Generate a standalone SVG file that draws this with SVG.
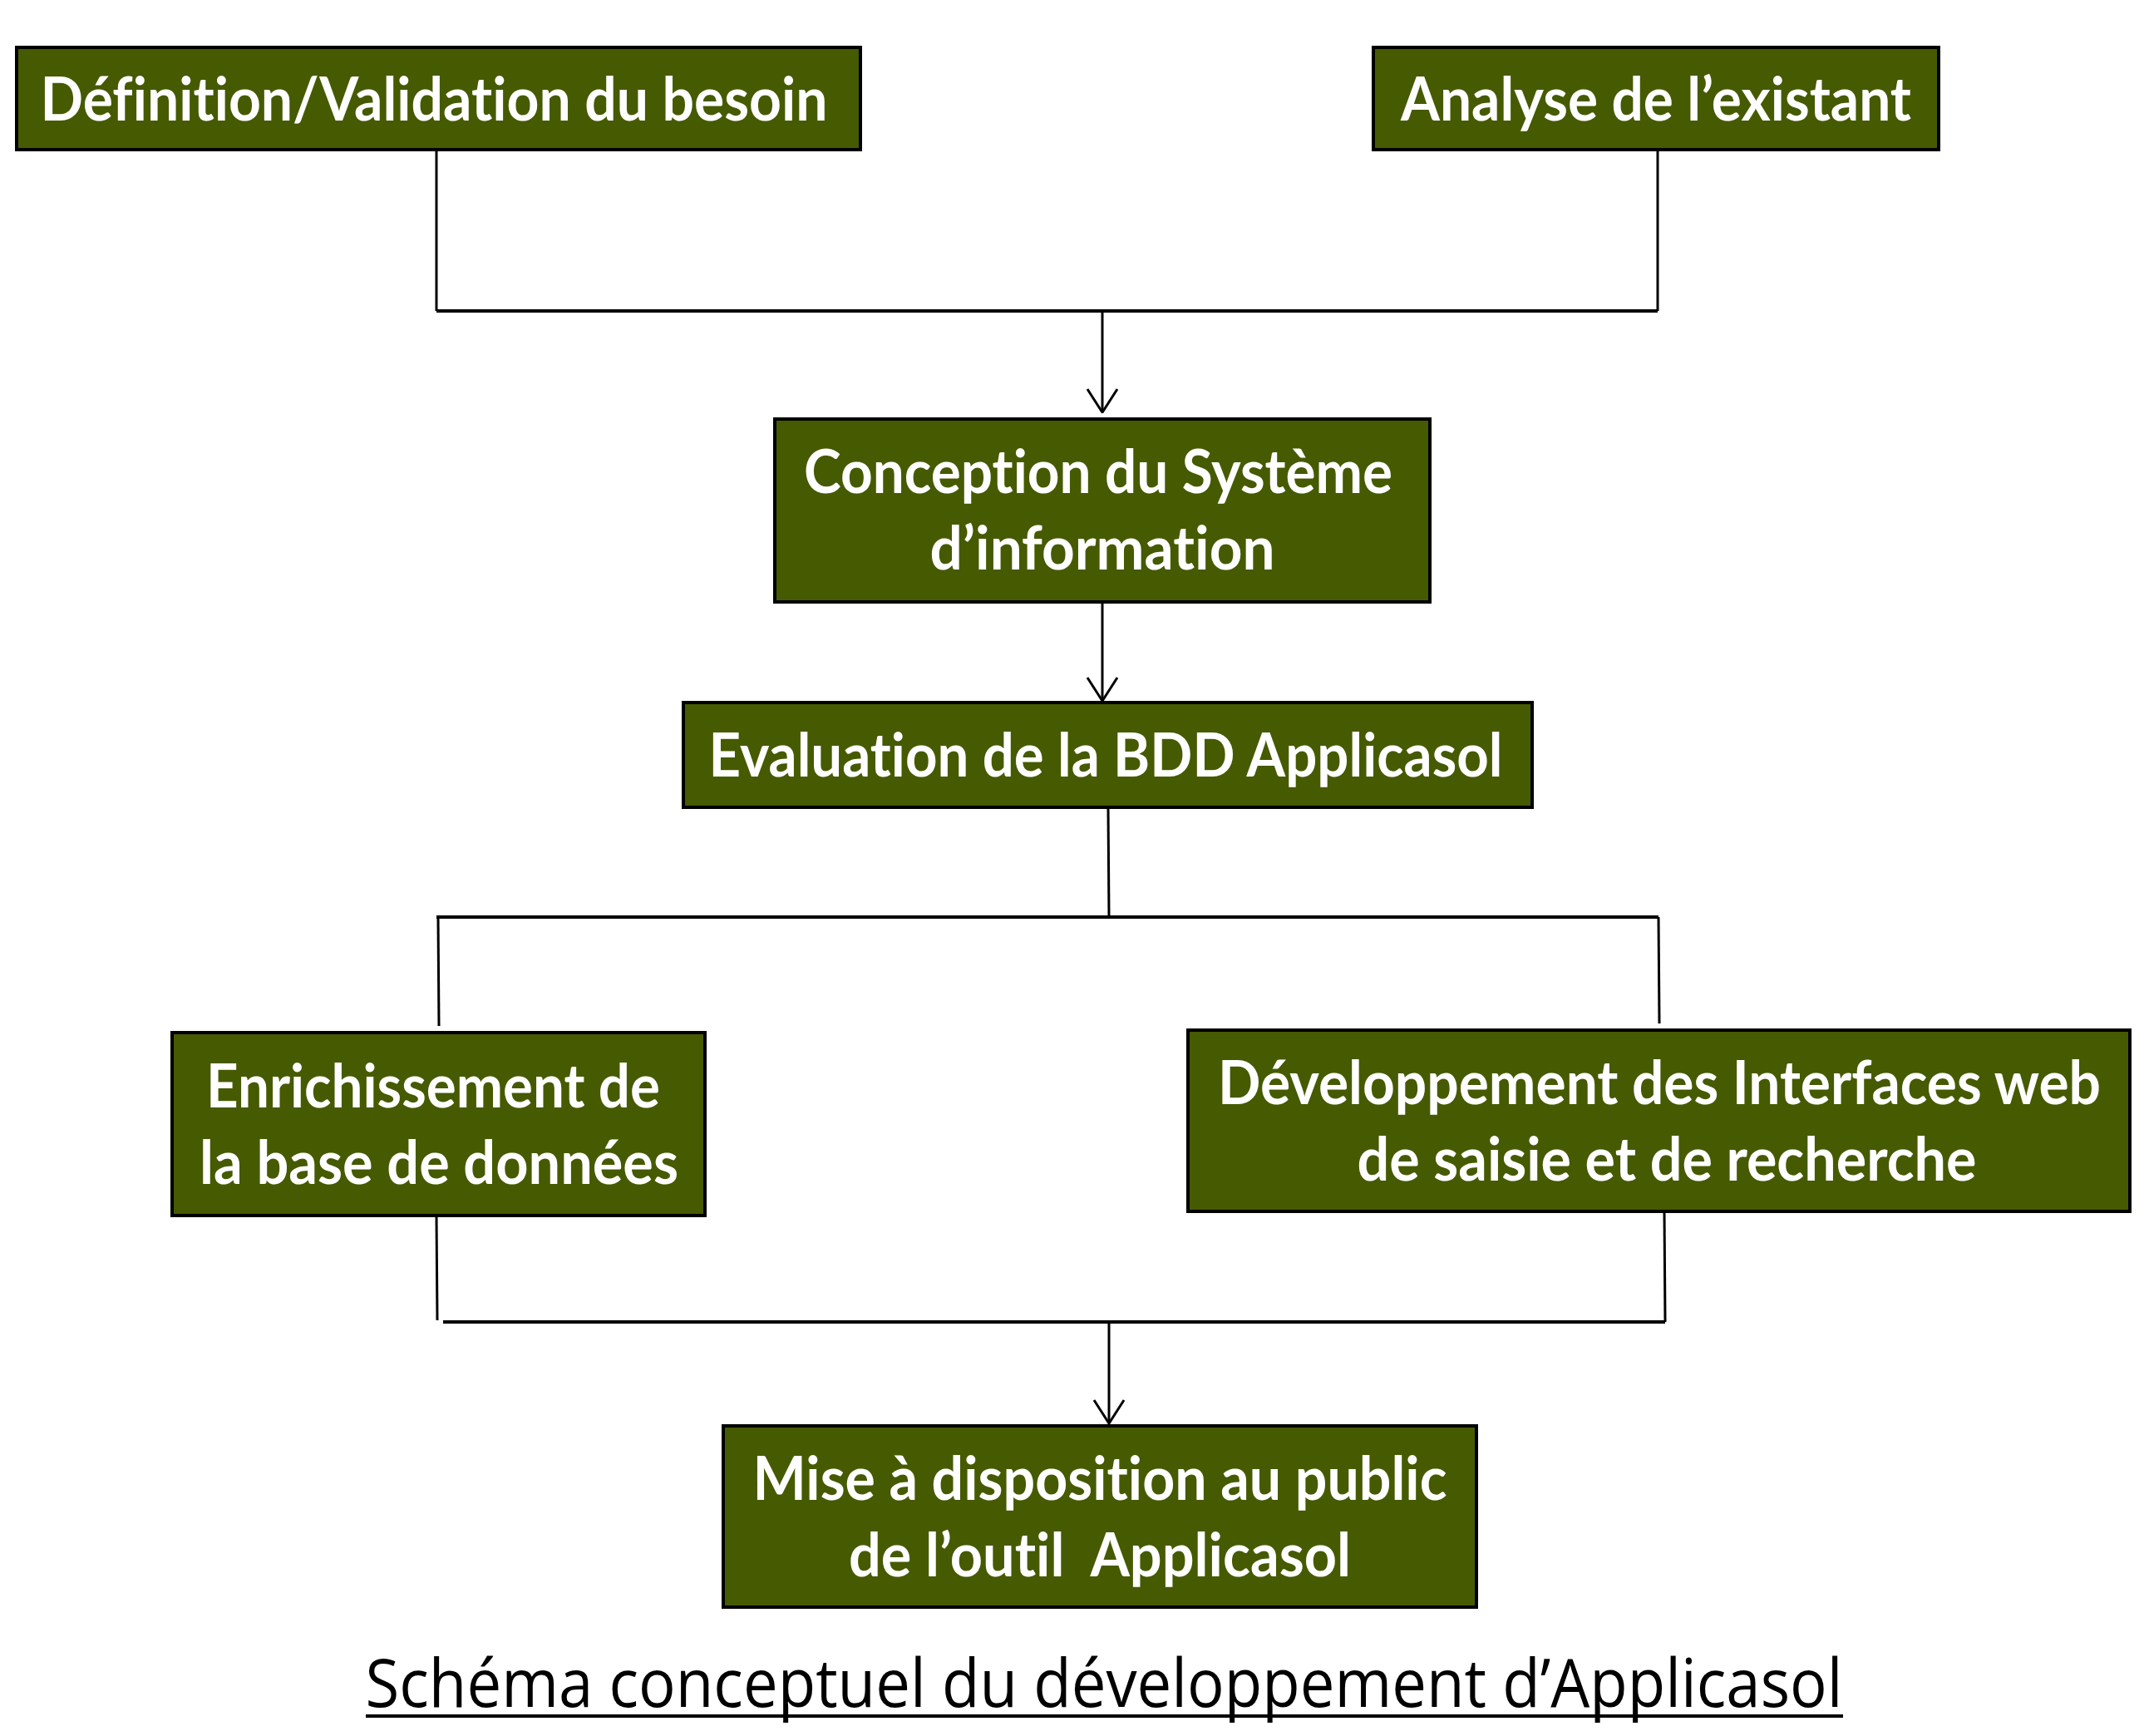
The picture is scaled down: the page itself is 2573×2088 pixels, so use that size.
<svg xmlns="http://www.w3.org/2000/svg" width="2573" height="2088" viewBox="0 0 2573 2088">
<defs>
<style>
.box{fill:#465a02;stroke:#000;stroke-width:4}
.t{font-family:Lato,"Open Sans","Liberation Sans",sans-serif;font-weight:bold;font-size:72px;fill:#fff;text-anchor:middle;font-variant-ligatures:none;font-feature-settings:"liga" 0}
.h{stroke:#000;stroke-width:4;fill:none}
.v{stroke:#000;stroke-width:3;fill:none}
.cap{font-family:"Open Sans","Liberation Sans",sans-serif;font-size:80px;fill:#000;text-anchor:middle}
</style>
<marker id="arr" viewBox="0 0 30 40" refX="29" refY="20" markerWidth="30" markerHeight="40" markerUnits="userSpaceOnUse" orient="auto">
<path d="M1,2 L29,20 L1,38" fill="none" stroke="#000" stroke-width="3"/>
</marker>
</defs>
<rect width="2573" height="2088" fill="#fff"/>
<g id="connectors">
<path class="v" d="M525,180 V374"/>
<path class="v" d="M1994,180 V374"/>
<path class="h" d="M525,374 H1994"/>
<path class="v" d="M1326,374 V496" marker-end="url(#arr)"/>
<path class="v" d="M1326,724 V843" marker-end="url(#arr)"/>
<path class="v" d="M1333,971 L1334,1103"/>
<path class="h" d="M525,1103 H1995"/>
<path class="v" d="M527,1103 L528,1234"/>
<path class="v" d="M1995,1103 L1996,1231"/>
<path class="v" d="M525,1462 L526,1588"/>
<path class="v" d="M2002,1457 L2003,1590"/>
<path class="h" d="M533,1590 H2003"/>
<path class="v" d="M1334,1590 V1712" marker-end="url(#arr)"/>
</g>
<g id="n1">
<rect class="box" x="20" y="57" width="1015" height="123"/>
<text class="t" x="522" y="145" textLength="947" lengthAdjust="spacingAndGlyphs">Définition/Validation du besoin</text>
</g>
<g id="n2">
<rect class="box" x="1652" y="57" width="680" height="123"/>
<text class="t" x="1992" y="145" textLength="614" lengthAdjust="spacingAndGlyphs">Analyse de l’existant</text>
</g>
<g id="n3">
<rect class="box" x="932" y="504" width="788" height="220"/>
<text class="t" x="1321" y="593" textLength="708" lengthAdjust="spacingAndGlyphs">Conception du Système</text>
<text class="t" x="1326" y="685" textLength="415" lengthAdjust="spacingAndGlyphs">d’information</text>
</g>
<g id="n4">
<rect class="box" x="822" y="845" width="1021" height="126"/>
<text class="t" x="1330" y="934" textLength="955" lengthAdjust="spacingAndGlyphs">Evaluation de la BDD Applicasol</text>
</g>
<g id="n5">
<rect class="box" x="207" y="1242" width="641" height="220"/>
<text class="t" x="521" y="1332" textLength="546" lengthAdjust="spacingAndGlyphs">Enrichissement de</text>
<text class="t" x="528" y="1424" textLength="576" lengthAdjust="spacingAndGlyphs">la base de données</text>
</g>
<g id="n6">
<rect class="box" x="1429" y="1239" width="1133" height="218"/>
<text class="t" x="1996" y="1328" font-size="70" textLength="1062" lengthAdjust="spacingAndGlyphs">Développement des Interfaces web</text>
<text class="t" x="2005" y="1420" textLength="745" lengthAdjust="spacingAndGlyphs">de saisie et de recherche</text>
</g>
<g id="n7">
<rect class="box" x="870" y="1715" width="906" height="218"/>
<text class="t" x="1323" y="1804" textLength="835" lengthAdjust="spacingAndGlyphs">Mise à disposition au public</text>
<text class="t" x="1323" y="1896" textLength="604" lengthAdjust="spacingAndGlyphs" xml:space="preserve">de l’outil  Applicasol</text>
</g>
<g id="caption">
<text class="cap" x="1328" y="2053" textLength="1777" lengthAdjust="spacingAndGlyphs">Schéma conceptuel du développement d’Applicasol</text>
<line x1="440" y1="2064" x2="2217" y2="2064" stroke="#000" stroke-width="4"/>
</g>
</svg>
